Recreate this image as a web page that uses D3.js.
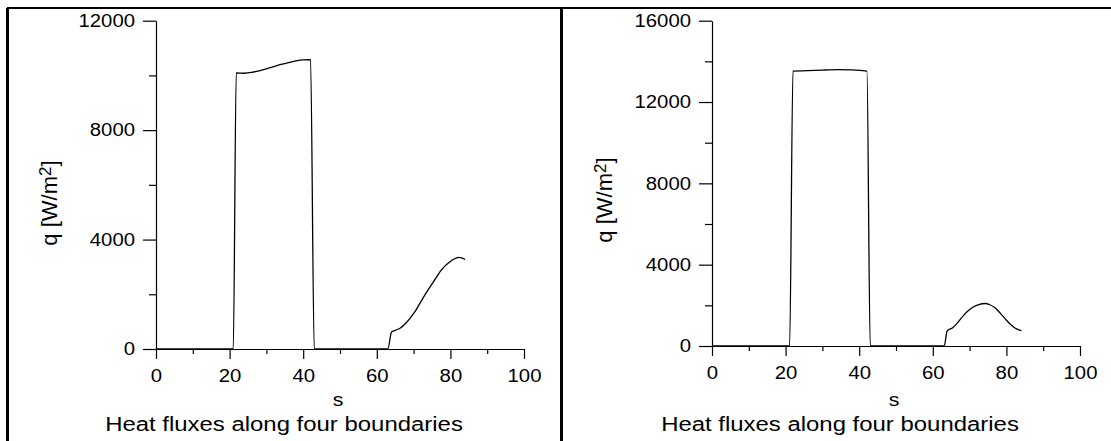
<!DOCTYPE html>
<html>
<head>
<meta charset="utf-8">
<script src="https://cdn.jsdelivr.net/npm/d3@7"></script>
<style>
  body { margin: 0; background: #fff; }
  svg { display: block; font-family: "Liberation Sans", Arial, sans-serif; }
  .axis path, .axis line { stroke: #000; stroke-width: 1.2; }
  .curve { fill: none; stroke: #000; stroke-width: 1.3; }
</style>
</head>
<body>
<div id="chart"></div>
<script>
// left panel: q along s
let sLeft = [0, 21, 21.8, 24, 26, 28, 30, 32, 34, 36, 38, 40, 42, 43,
             63, 64, 65, 66.3, 68, 69, 70.5, 71.7, 73, 74.5, 76, 77.2, 78.5, 79.9, 81, 82.3, 83, 84];
let qLeft = [0, 0, 10090, 10080, 10110, 10170, 10240, 10320, 10400, 10470, 10530, 10570, 10580, 0,
             0, 620, 680, 760, 960, 1120, 1390, 1670, 1960, 2280, 2580, 2830, 3030, 3190, 3290, 3350, 3330, 3270];

// right panel
let sRight = [0, 21.1, 22, 26, 30, 34, 38, 42.1, 43,
              63.1, 63.9, 65.4, 67, 68.2, 70, 71.1, 72.5, 74.2, 75.5, 76.9, 78.5, 79.8, 81, 82.2, 83.2, 84.1];
let qRight = [0, 0, 13520, 13540, 13570, 13590, 13580, 13520, 0,
              0, 740, 900, 1200, 1470, 1790, 1930, 2040, 2090, 2030, 1880, 1580, 1310, 1080, 900, 810, 760];

let xMajor = [0, 20, 40, 60, 80, 100];
let xMinor = [10, 30, 50, 70, 90];
let yMajorLeft = [0, 4000, 8000, 12000];
let yMinorLeft = [2000, 6000, 10000];
let yMajorRight = [0, 4000, 8000, 12000, 16000];
let yMinorRight = [2000, 6000, 10000, 14000];

let xLabel = "s";
let title = "Heat fluxes along four boundaries";

const W = 1111, H = 441;
const svg = d3.select("#chart").append("svg")
    .attr("width", W)
    .attr("height", H);

// frame lines
svg.append("line").attr("x1", 7).attr("x2", W).attr("y1", 8).attr("y2", 8)
    .attr("stroke", "#000").attr("stroke-width", 2);
svg.append("line").attr("x1", 7.5).attr("x2", 7.5).attr("y1", 8).attr("y2", H)
    .attr("stroke", "#000").attr("stroke-width", 3);
svg.append("line").attr("x1", 561.5).attr("x2", 561.5).attr("y1", 8).attr("y2", H)
    .attr("stroke", "#000").attr("stroke-width", 3);

// stretch text horizontally, keeps anchor position
function stretch(sel, sx) {
    sel.each(function() {
        let t = d3.select(this);
        let x = +t.attr("x") || 0;
        t.attr("x", x / sx).attr("transform", "scale(" + sx + ",1)");
    });
}

function panel(opt) {
    let x = d3.scaleLinear().domain([0, 100]).range([opt.left, opt.right]);
    let y = d3.scaleLinear().domain([0, opt.yMax]).range([opt.bottom, opt.top]);

    let g = svg.append("g");

    // minor ticks
    g.append("g")
        .attr("class", "axis")
        .attr("transform", "translate(0," + opt.bottom + ")")
        .call(d3.axisBottom(x).tickValues(xMinor).tickSize(5).tickFormat(""))
        .call(a => a.select(".domain").remove());
    g.append("g")
        .attr("class", "axis")
        .attr("transform", "translate(" + opt.left + ",0)")
        .call(d3.axisLeft(y).tickValues(opt.yMinor).tickSize(7).tickFormat(""))
        .call(a => a.select(".domain").remove());

    // major axes
    let xa = g.append("g")
        .attr("class", "axis")
        .attr("transform", "translate(0," + opt.bottom + ")")
        .call(d3.axisBottom(x).tickValues(xMajor).tickSize(10).tickSizeOuter(0).tickPadding(10));
    xa.selectAll("text").attr("font-size", 18).attr("fill", "#000");
    stretch(xa.selectAll("text"), 1.13);

    let ya = g.append("g")
        .attr("class", "axis")
        .attr("transform", "translate(" + opt.left + ",0)")
        .call(d3.axisLeft(y).tickValues(opt.yMajor).tickSize(13).tickSizeOuter(0).tickPadding(8)
            .tickFormat(d3.format("d")));
    ya.selectAll("text").attr("font-size", 18).attr("fill", "#000");
    stretch(ya.selectAll("text"), 1.13);

    // data line
    let line = d3.line()
        .x((d, i) => x(opt.s[i]))
        .y(d => y(d))
        .curve(d3.curveMonotoneX);
    g.append("path")
        .datum(opt.q)
        .attr("class", "curve")
        .attr("d", line);

    // x label
    let xl = g.append("text")
        .attr("x", (opt.left + opt.right) / 2 - 2)
        .attr("y", 406)
        .attr("text-anchor", "middle")
        .attr("font-size", 19)
        .text(xLabel);
    stretch(xl, 1.12);

    // title
    let tl = g.append("text")
        .attr("x", opt.titleX)
        .attr("y", 431)
        .attr("text-anchor", "middle")
        .attr("font-size", 21)
        .text(title);
    stretch(tl, 1.14);

    // y label
    let yl = g.append("text")
        .attr("transform", "translate(" + opt.yLabelX + "," + opt.yLabelY + ") rotate(-90)")
        .attr("text-anchor", "middle")
        .attr("font-size", 22);
    yl.append("tspan").text("q [W/m");
    yl.append("tspan").attr("font-size", 17).attr("dy", -6).text("2");
    yl.append("tspan").attr("dy", 6).text("]");
}

panel({ left: 156, right: 524, top: 20.7, bottom: 349, yMax: 12000,
        yMajor: yMajorLeft, yMinor: yMinorLeft, s: sLeft, q: qLeft,
        titleX: 284, yLabelX: 57, yLabelY: 203 });

panel({ left: 712, right: 1080, top: 20.7, bottom: 346, yMax: 16000,
        yMajor: yMajorRight, yMinor: yMinorRight, s: sRight, q: qRight,
        titleX: 840, yLabelX: 612, yLabelY: 200 });
</script>
</body>
</html>
